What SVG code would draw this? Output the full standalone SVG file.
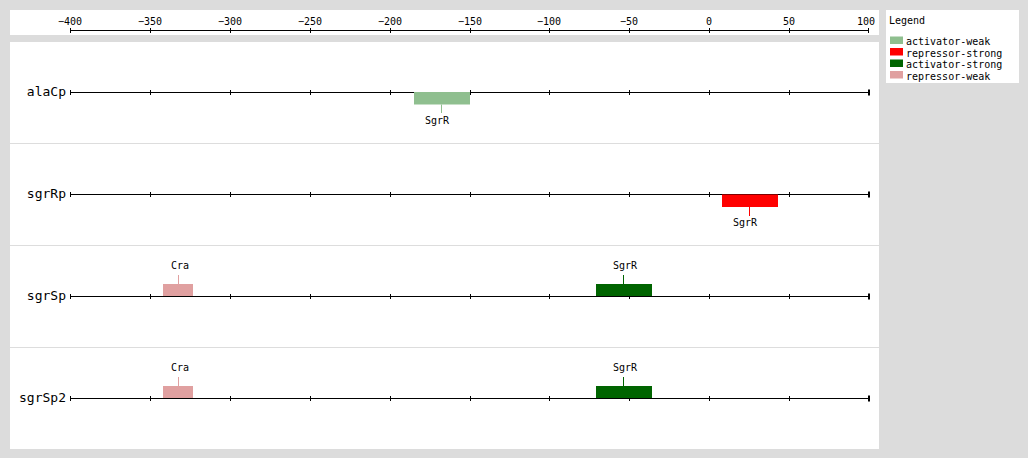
<svg xmlns="http://www.w3.org/2000/svg" width="1028" height="458" viewBox="0 0 1028 458">
<style>
text{font-family:"DejaVu Sans Mono","Liberation Mono",monospace;fill:#000}
.ax{font-size:10px;text-anchor:middle}
.rl{font-size:13px;text-anchor:end}
.bl{font-size:10px;text-anchor:middle}
.lg{font-size:10px}
.ln{stroke:#000;stroke-width:1;fill:none}
.sep{stroke:#dddddd;stroke-width:1}
.aw{fill:#8fbf8f}.rs{fill:#ff0000}.as{fill:#006400}.rw{fill:#e0a0a0}
.saw{stroke:#8fbf8f}.srs{stroke:#ff0000}.sas{stroke:#006400}.srw{stroke:#e0a0a0}
</style>
<defs>
<g id="track">
<path class="ln" d="M70,0H869M70.5,-2.5V2.5M150.5,-2.5V2.5M230.5,-2.5V2.5M310.5,-2.5V2.5M390.5,-2.5V2.5M470.5,-2.5V2.5M549.5,-2.5V2.5M629.5,-2.5V2.5M709.5,-2.5V2.5M789.5,-2.5V2.5"/>
<rect x="868" y="-3" width="2" height="6" fill="#000"/>
</g>
</defs>
<rect width="1028" height="458" fill="#dcdcdc"/>
<rect x="10" y="10" width="869" height="25" fill="#fff"/>
<rect x="10" y="42" width="869" height="407" fill="#fff"/>
<g id="axis">
<path class="ln" d="M70,30.5H869M70.5,28V33M150.5,28V33M230.5,28V33M310.5,28V33M390.5,28V33M470.5,28V33M549.5,28V33M629.5,28V33M709.5,28V33M789.5,28V33M868.5,28V33"/>
<text class="ax" x="70" y="25">−400</text>
<text class="ax" x="150" y="25">−350</text>
<text class="ax" x="230" y="25">−300</text>
<text class="ax" x="310" y="25">−250</text>
<text class="ax" x="390" y="25">−200</text>
<text class="ax" x="470" y="25">−150</text>
<text class="ax" x="549" y="25">−100</text>
<text class="ax" x="629" y="25">−50</text>
<text class="ax" x="709" y="25">0</text>
<text class="ax" x="789" y="25">50</text>
<text class="ax" x="866" y="25">100</text>
</g>
<g id="separators">
<line class="sep" x1="10" y1="143.5" x2="879" y2="143.5"/>
<line class="sep" x1="10" y1="245.5" x2="879" y2="245.5"/>
<line class="sep" x1="10" y1="347.5" x2="879" y2="347.5"/>
</g>
<g id="alaCp">
<text class="rl" x="66" y="96">alaCp</text>
<use href="#track" y="92.5"/>
<rect class="aw" x="414" y="92" width="56" height="12.5"/>
<line class="saw" x1="441.5" y1="104.5" x2="441.5" y2="113"/>
<text class="bl" x="437" y="124">SgrR</text>
</g>
<g id="sgrRp">
<text class="rl" x="66" y="198">sgrRp</text>
<use href="#track" y="194.5"/>
<rect class="rs" x="722" y="194.5" width="56" height="12.5"/>
<line class="srs" x1="749.5" y1="207" x2="749.5" y2="216"/>
<text class="bl" x="745" y="226">SgrR</text>
</g>
<g id="sgrSp">
<text class="rl" x="66" y="300">sgrSp</text>
<use href="#track" y="296.5"/>
<rect class="rw" x="163" y="284" width="30" height="12"/>
<line class="srw" x1="178.5" y1="275" x2="178.5" y2="284"/>
<text class="bl" x="180" y="269">Cra</text>
<rect class="as" x="596" y="284" width="56" height="12"/>
<line class="sas" x1="623.5" y1="275" x2="623.5" y2="284"/>
<text class="bl" x="625" y="269">SgrR</text>
</g>
<g id="sgrSp2">
<text class="rl" x="66" y="402">sgrSp2</text>
<use href="#track" y="398.5"/>
<rect class="rw" x="163" y="386" width="30" height="12"/>
<line class="srw" x1="178.5" y1="377" x2="178.5" y2="386"/>
<text class="bl" x="180" y="371">Cra</text>
<rect class="as" x="596" y="386" width="56" height="12"/>
<line class="sas" x1="623.5" y1="377" x2="623.5" y2="386"/>
<text class="bl" x="625" y="371">SgrR</text>
</g>
<g id="legend">
<rect x="886" y="10" width="133" height="73" fill="#fff"/>
<text class="lg" x="889" y="24" font-size="10.5">Legend</text>
<rect class="aw" x="890" y="36.5" width="13" height="7.5"/>
<text class="lg" x="906" y="45">activator-weak</text>
<rect class="rs" x="890" y="48" width="13" height="7.5"/>
<text class="lg" x="906" y="56.5">repressor-strong</text>
<rect class="as" x="890" y="59.5" width="13" height="7.5"/>
<text class="lg" x="906" y="68">activator-strong</text>
<rect class="rw" x="890" y="71" width="13" height="7.5"/>
<text class="lg" x="906" y="79.5">repressor-weak</text>
</g>
</svg>
